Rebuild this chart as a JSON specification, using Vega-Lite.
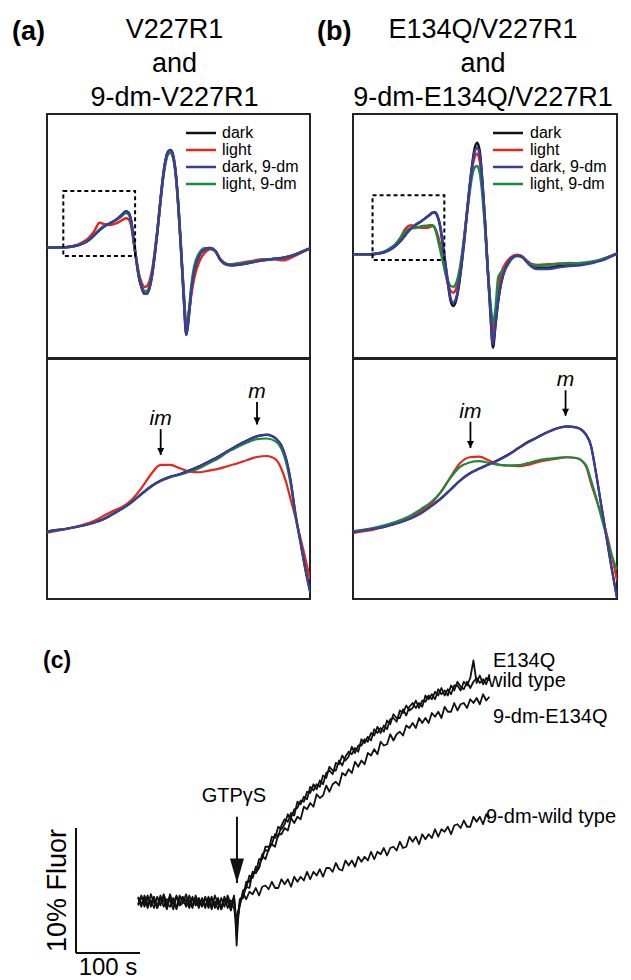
{
"$schema": "https://vega.github.io/schema/vega-lite/v6.json",
"padding": {"left": 12, "top": 15, "right": 0, "bottom": 0},
"background": "white",
"config": {"font": "Liberation Sans", "view": {"stroke": null}},
"datasets": {
"a_top": [
{"B":3320,"d":1,"l":1,"d9":1,"l9":1},{"B":3325,"d":2,"l":2,"d9":2,"l9":2},{"B":3328,"d":3,"l":3,"d9":3,"l9":3},{"B":3330,"d":5,"l":6,"d9":5,"l9":5},{"B":3332,"d":9,"l":11,"d9":9,"l9":9},{"B":3334,"d":15,"l":19,"d9":15,"l9":15},{"B":3336,"d":25,"l":31,"d9":25,"l9":24},{"B":3338,"d":39,"l":51,"d9":39,"l9":38},{"B":3340,"d":54,"l":76,"d9":54,"l9":56},{"B":3342,"d":66,"l":71,"d9":66,"l9":67},{"B":3344,"d":74,"l":69,"d9":74,"l9":75},{"B":3346,"d":83,"l":73,"d9":83,"l9":83},{"B":3348,"d":96,"l":81,"d9":96,"l9":93},{"B":3349,"d":104,"l":86,"d9":104,"l9":100},{"B":3350,"d":110,"l":89,"d9":110,"l9":105},{"B":3351,"d":106,"l":86,"d9":106,"l9":101},{"B":3352,"d":81,"l":66,"d9":81,"l9":78},{"B":3353,"d":21,"l":16,"d9":21,"l9":21},{"B":3354,"d":-39,"l":-34,"d9":-39,"l9":-37},{"B":3355,"d":-89,"l":-79,"d9":-89,"l9":-84},{"B":3356,"d":-119,"l":-104,"d9":-119,"l9":-113},{"B":3357,"d":-137,"l":-117,"d9":-137,"l9":-129},{"B":3358,"d":-137,"l":-114,"d9":-137,"l9":-129},{"B":3359,"d":-119,"l":-99,"d9":-119,"l9":-112},{"B":3360,"d":-79,"l":-64,"d9":-79,"l9":-74},{"B":3361,"d":-19,"l":-9,"d9":-19,"l9":-16},{"B":3362,"d":51,"l":56,"d9":51,"l9":53},{"B":3363,"d":131,"l":131,"d9":131,"l9":129},{"B":3364,"d":206,"l":201,"d9":206,"l9":201},{"B":3365,"d":261,"l":253,"d9":261,"l9":254},{"B":3366,"d":289,"l":281,"d9":289,"l9":281},{"B":3367,"d":294,"l":286,"d9":294,"l9":286},{"B":3368,"d":276,"l":271,"d9":276,"l9":269},{"B":3369,"d":221,"l":216,"d9":221,"l9":216},{"B":3370,"d":121,"l":116,"d9":121,"l9":119},{"B":3371,"d":-9,"l":-9,"d9":-9,"l9":-7},{"B":3372,"d":-149,"l":-134,"d9":-149,"l9":-137},{"B":3373,"d":-261,"l":-229,"d9":-261,"l9":-244},{"B":3374,"d":-199,"l":-189,"d9":-199,"l9":-184},{"B":3375,"d":-119,"l":-134,"d9":-119,"l9":-104},{"B":3376,"d":-69,"l":-89,"d9":-69,"l9":-54},{"B":3378,"d":-21,"l":-39,"d9":-21,"l9":-14},{"B":3380,"d":-4,"l":-14,"d9":-4,"l9":-1},{"B":3382,"d":0,"l":-4,"d9":0,"l9":-1},{"B":3384,"d":-9,"l":-9,"d9":-9,"l9":-9},{"B":3386,"d":-37,"l":-34,"d9":-37,"l9":-35},{"B":3388,"d":-49,"l":-47,"d9":-49,"l9":-47},{"B":3390,"d":-52,"l":-49,"d9":-52,"l9":-50},{"B":3394,"d":-49,"l":-44,"d9":-49,"l9":-46},{"B":3398,"d":-43,"l":-39,"d9":-43,"l9":-41},{"B":3402,"d":-37,"l":-34,"d9":-37,"l9":-36},{"B":3406,"d":-33,"l":-34,"d9":-33,"l9":-32},{"B":3410,"d":-29,"l":-37,"d9":-29,"l9":-29},{"B":3414,"d":-21,"l":-24,"d9":-21,"l9":-20},{"B":3417,"d":-11,"l":-13,"d9":-11,"l9":-11},{"B":3420,"d":-1,"l":-1,"d9":-1,"l9":-1}
],
"b_top": [
{"B":3320,"d":0,"l":0,"d9":0,"l9":0},{"B":3325,"d":0,"l":0,"d9":0,"l9":0},{"B":3328,"d":1,"l":1,"d9":1,"l9":1},{"B":3330,"d":3,"l":3,"d9":3,"l9":4},{"B":3332,"d":7,"l":7,"d9":7,"l9":9},{"B":3334,"d":14,"l":15,"d9":14,"l9":18},{"B":3336,"d":25,"l":28,"d9":25,"l9":30},{"B":3338,"d":40,"l":50,"d9":40,"l9":50},{"B":3340,"d":60,"l":78,"d9":60,"l9":70},{"B":3342,"d":78,"l":87,"d9":78,"l9":78},{"B":3344,"d":90,"l":82,"d9":90,"l9":80},{"B":3346,"d":100,"l":80,"d9":100,"l9":84},{"B":3348,"d":112,"l":80,"d9":112,"l9":86},{"B":3349,"d":118,"l":82,"d9":118,"l9":87},{"B":3350,"d":125,"l":85,"d9":124,"l9":87},{"B":3351,"d":126,"l":80,"d9":125,"l9":78},{"B":3352,"d":115,"l":60,"d9":114,"l9":50},{"B":3353,"d":85,"l":30,"d9":85,"l9":15},{"B":3354,"d":30,"l":-10,"d9":32,"l9":-20},{"B":3355,"d":-30,"l":-55,"d9":-27,"l9":-55},{"B":3356,"d":-90,"l":-90,"d9":-85,"l9":-80},{"B":3357,"d":-140,"l":-110,"d9":-132,"l9":-95},{"B":3358,"d":-155,"l":-115,"d9":-145,"l9":-97},{"B":3359,"d":-140,"l":-105,"d9":-133,"l9":-88},{"B":3360,"d":-100,"l":-75,"d9":-95,"l9":-60},{"B":3361,"d":-40,"l":-25,"d9":-37,"l9":-15},{"B":3362,"d":30,"l":40,"d9":32,"l9":45},{"B":3363,"d":110,"l":115,"d9":110,"l9":110},{"B":3364,"d":190,"l":185,"d9":188,"l9":175},{"B":3365,"d":260,"l":250,"d9":255,"l9":230},{"B":3366,"d":315,"l":290,"d9":305,"l9":260},{"B":3367,"d":335,"l":302,"d9":320,"l9":265},{"B":3368,"d":310,"l":280,"d9":300,"l9":245},{"B":3369,"d":220,"l":200,"d9":215,"l9":180},{"B":3370,"d":100,"l":90,"d9":100,"l9":80},{"B":3371,"d":-40,"l":-40,"d9":-38,"l9":-40},{"B":3372,"d":-170,"l":-150,"d9":-165,"l9":-140},{"B":3373,"d":-280,"l":-230,"d9":-270,"l9":-205},{"B":3374,"d":-210,"l":-180,"d9":-205,"l9":-160},{"B":3375,"d":-140,"l":-120,"d9":-138,"l9":-70},{"B":3376,"d":-90,"l":-60,"d9":-90,"l9":-55},{"B":3378,"d":-35,"l":-25,"d9":-37,"l9":-40},{"B":3380,"d":-10,"l":-8,"d9":-12,"l9":-15},{"B":3382,"d":-2,"l":-2,"d9":-4,"l9":-5},{"B":3384,"d":-6,"l":-6,"d9":-8,"l9":-8},{"B":3386,"d":-22,"l":-20,"d9":-25,"l9":-22},{"B":3388,"d":-35,"l":-30,"d9":-39,"l9":-32},{"B":3390,"d":-40,"l":-32,"d9":-44,"l9":-34},{"B":3394,"d":-40,"l":-30,"d9":-44,"l9":-32},{"B":3398,"d":-35,"l":-28,"d9":-39,"l9":-28},{"B":3402,"d":-32,"l":-26,"d9":-35,"l9":-27},{"B":3406,"d":-30,"l":-28,"d9":-33,"l9":-26},{"B":3410,"d":-25,"l":-25,"d9":-27,"l9":-22},{"B":3414,"d":-17,"l":-16,"d9":-19,"l9":-15},{"B":3417,"d":-8,"l":-7,"d9":-9,"l9":-7},{"B":3420,"d":2,"l":2,"d9":2,"l9":2}
],
"a_bot": [
{"B":3326.2,"d":30.8,"l":29.8,"d9":30.6,"l9":30.6},{"B":3327,"d":31.9,"l":31.1,"d9":31.7,"l9":31.7},{"B":3328,"d":32.9,"l":32.5,"d9":32.7,"l9":32.7},{"B":3329,"d":34.3,"l":34.4,"d9":34.1,"l9":34.1},{"B":3330,"d":35.9,"l":36.5,"d9":35.7,"l9":35.7},{"B":3331,"d":38.0,"l":39.2,"d9":37.8,"l9":37.8},{"B":3332,"d":40.7,"l":43.2,"d9":40.5,"l9":40.5},{"B":3333,"d":45.0,"l":47.3,"d9":44.8,"l9":44.6},{"B":3334,"d":49.6,"l":50.8,"d9":49.4,"l9":49.2},{"B":3335,"d":55.0,"l":56.7,"d9":54.8,"l9":54.6},{"B":3336,"d":61.4,"l":66.1,"d9":61.2,"l9":61.0},{"B":3337,"d":67.6,"l":77.4,"d9":67.4,"l9":67.2},{"B":3338,"d":72.2,"l":84.9,"d9":72.0,"l9":71.8},{"B":3339,"d":75.4,"l":84.9,"d9":75.2,"l9":75.0},{"B":3340,"d":77.6,"l":82.2,"d9":77.4,"l9":77.0},{"B":3341,"d":80.5,"l":79.5,"d9":80.3,"l9":79.5},{"B":3342,"d":83.8,"l":79.0,"d9":83.6,"l9":82.2},{"B":3343,"d":87.8,"l":80.3,"d9":87.6,"l9":86.3},{"B":3344,"d":91.8,"l":81.7,"d9":91.6,"l9":90.3},{"B":3345,"d":96.4,"l":84.1,"d9":96.2,"l9":95.7},{"B":3346,"d":101.0,"l":86.3,"d9":100.8,"l9":99.5},{"B":3347,"d":105.0,"l":89.0,"d9":104.8,"l9":103.2},{"B":3348,"d":108.3,"l":91.4,"d9":108.1,"l9":105.9},{"B":3349,"d":109.6,"l":92.2,"d9":109.4,"l9":106.4},{"B":3350,"d":106.1,"l":89.0,"d9":105.9,"l9":103.7},{"B":3350.5,"d":101.3,"l":82.2,"d9":101.1,"l9":98.4},{"B":3351,"d":90.5,"l":71.5,"d9":90.3,"l9":87.6},{"B":3351.5,"d":71.7,"l":56.7,"d9":71.5,"l9":68.8},{"B":3352,"d":44.8,"l":41.9,"d9":44.6,"l9":43.2},{"B":3352.5,"d":23.2,"l":25.7,"d9":23.0,"l9":21.7},{"B":3353,"d":1.7,"l":9.6,"d9":1.5,"l9":0.2},{"B":3353.5,"d":-17.1,"l":-7.9,"d9":-17.3,"l9":-18.6}
],
"b_bot": [
{"B":3327.4,"d":37.3,"l":36.3,"d9":37.1,"l9":37.9},{"B":3328.4,"d":38.6,"l":37.6,"d9":38.4,"l9":39.0},{"B":3329.4,"d":39.7,"l":38.9,"d9":39.5,"l9":40.3},{"B":3330.4,"d":41.0,"l":40.8,"d9":40.8,"l9":42.1},{"B":3331.4,"d":43.1,"l":43.2,"d9":42.9,"l9":44.3},{"B":3332.4,"d":45.5,"l":45.9,"d9":45.3,"l9":47.2},{"B":3333.4,"d":48.5,"l":49.3,"d9":48.3,"l9":50.7},{"B":3334.4,"d":52.5,"l":53.9,"d9":52.3,"l9":55.7},{"B":3335.4,"d":57.8,"l":59.7,"d9":57.6,"l9":61.0},{"B":3336.4,"d":63.9,"l":69.0,"d9":63.7,"l9":69.0},{"B":3337.4,"d":71.1,"l":81.0,"d9":70.9,"l9":80.5},{"B":3338.4,"d":78.6,"l":92.5,"d9":78.4,"l9":89.6},{"B":3339.4,"d":84.4,"l":97.6,"d9":84.2,"l9":93.3},{"B":3340.4,"d":88.4,"l":98.1,"d9":88.2,"l9":94.4},{"B":3341.4,"d":91.9,"l":94.9,"d9":91.7,"l9":93.0},{"B":3342.4,"d":95.6,"l":91.7,"d9":95.2,"l9":91.4},{"B":3343.4,"d":99.8,"l":90.9,"d9":99.4,"l9":90.9},{"B":3344.4,"d":104.9,"l":90.4,"d9":104.5,"l9":91.2},{"B":3345.4,"d":109.9,"l":91.4,"d9":109.5,"l9":92.8},{"B":3346.4,"d":113.8,"l":93.6,"d9":113.5,"l9":94.9},{"B":3347.4,"d":117.8,"l":95.2,"d9":117.5,"l9":96.2},{"B":3348.4,"d":121.0,"l":96.5,"d9":120.7,"l9":97.0},{"B":3349.4,"d":122.6,"l":97.6,"d9":122.3,"l9":97.6},{"B":3350.4,"d":121.8,"l":97.0,"d9":121.5,"l9":97.0},{"B":3351.4,"d":116.0,"l":90.4,"d9":115.7,"l9":91.2},{"B":3351.9,"d":107.5,"l":77.0,"d9":107.2,"l9":79.7},{"B":3352.4,"d":86.7,"l":65.0,"d9":86.4,"l9":66.4},{"B":3352.9,"d":62.7,"l":53.0,"d9":62.4,"l9":51.7},{"B":3353.4,"d":38.7,"l":39.7,"d9":38.4,"l9":37.1},{"B":3353.9,"d":14.7,"l":23.7,"d9":14.4,"l9":22.4},{"B":3354.6,"d":-15.9,"l":-2.1,"d9":-16.2,"l9":6.4}
],
"a_box": [{"B1":3326.2,"B2":3353.5,"A1":171,"A2":-24}],
"b_box": [{"B1":3327.4,"B2":3354.6,"A1":177,"A2":-17}],
"a_arrows": [{"label":"im","B":3338.0,"top":114.0,"tip":93.0},{"label":"m","B":3348.0,"top":136.0,"tip":117.7}],
"b_arrows": [{"label":"im","B":3339.5,"top":126.3,"tip":105.0},{"label":"m","B":3349.3,"top":151.7,"tip":131.1}],
"traces": [
{"t":97,"wt":4.4,"e":3.8,"de":4.5,"dw":3.9},{"t":102,"wt":3.7,"e":4.5,"de":3.9,"dw":4.6},{"t":107,"wt":4.6,"e":4.0,"de":4.4,"dw":3.7},{"t":112,"wt":3.9,"e":4.6,"de":3.6,"dw":4.4},{"t":117,"wt":4.2,"e":3.7,"de":4.7,"dw":4.0},{"t":122,"wt":3.6,"e":4.3,"de":4.0,"dw":4.5},{"t":127,"wt":4.5,"e":3.6,"de":3.8,"dw":3.6},{"t":132,"wt":3.8,"e":4.4,"de":4.6,"dw":4.3},{"t":137,"wt":4.7,"e":4.2,"de":3.7,"dw":4.4},{"t":142,"wt":4.0,"e":3.5,"de":4.3,"dw":3.8},{"t":147,"wt":3.7,"e":4.5,"de":4.2,"dw":4.7},{"t":152,"wt":4.4,"e":3.9,"de":3.5,"dw":3.9},{"t":157,"wt":3.5,"e":4.6,"de":4.5,"dw":3.7},{"t":162,"wt":4.3,"e":3.8,"de":3.9,"dw":4.6},{"t":167,"wt":4.5,"e":4.0,"de":4.4,"dw":4.0},{"t":172,"wt":3.8,"e":4.7,"de":3.7,"dw":4.3},{"t":177,"wt":4.2,"e":3.7,"de":4.6,"dw":3.6},{"t":182,"wt":3.6,"e":4.3,"de":3.8,"dw":4.5},{"t":187,"wt":4.6,"e":3.9,"de":4.3,"dw":3.8},{"t":192,"wt":3.9,"e":4.4,"de":3.6,"dw":4.2},{"t":197,"wt":4.3,"e":3.7,"de":4.4,"dw":3.8},{"t":202,"wt":3.6,"e":4.4,"de":3.8,"dw":4.5},{"t":207,"wt":4.5,"e":3.9,"de":4.3,"dw":3.6},{"t":212,"wt":3.8,"e":4.5,"de":3.5,"dw":4.3},{"t":217,"wt":4.1,"e":3.6,"de":4.6,"dw":3.9},{"t":222,"wt":3.5,"e":4.2,"de":3.9,"dw":4.4},{"t":227,"wt":4.4,"e":3.5,"de":3.7,"dw":3.5},{"t":232,"wt":3.7,"e":4.3,"de":4.5,"dw":4.2},{"t":237,"wt":4.6,"e":4.1,"de":3.6,"dw":4.3},{"t":242,"wt":3.9,"e":3.4,"de":4.2,"dw":3.7},{"t":247,"wt":3.6,"e":4.4,"de":4.1,"dw":4.6},{"t":249,"wt":2.8,"e":3.2,"de":3.0,"dw":3.4},{"t":251,"wt":0.6,"e":2.0,"de":1.4,"dw":2.4},{"t":253,"wt":2.5,"e":3.0,"de":2.8,"dw":3.3},
{"t":256,"wt":4.2,"e":3.8,"de":4.3,"dw":3.9},{"t":261,"wt":4.4,"e":5.0,"de":4.5,"dw":4.8},{"t":266,"wt":5.7,"e":5.2,"de":5.3,"dw":4.3},{"t":271,"wt":5.7,"e":6.2,"de":5.2,"dw":4.9},{"t":276,"wt":6.4,"e":6.0,"de":6.5,"dw":4.7},{"t":281,"wt":6.4,"e":6.9,"de":6.4,"dw":5.2},{"t":286,"wt":7.5,"e":6.8,"de":6.8,"dw":4.6},{"t":291,"wt":7.5,"e":7.9,"de":7.8,"dw":5.3},{"t":296,"wt":8.5,"e":8.2,"de":7.5,"dw":5.4},{"t":301,"wt":8.5,"e":8.2,"de":8.3,"dw":5.1},{"t":306,"wt":8.7,"e":9.3,"de":8.7,"dw":5.7},{"t":311,"wt":9.5,"e":9.2,"de":8.5,"dw":5.2},{"t":316,"wt":9.3,"e":10.1,"de":9.5,"dw":5.2},{"t":321,"wt":10.2,"e":9.9,"de":9.5,"dw":5.9},{"t":326,"wt":10.7,"e":10.3,"de":10.0,"dw":5.5},{"t":331,"wt":10.5,"e":11.1,"de":9.8,"dw":5.9},{"t":336,"wt":11.2,"e":10.8,"de":10.8,"dw":5.3},{"t":341,"wt":11.0,"e":11.5,"de":10.4,"dw":6.1},{"t":346,"wt":12.1,"e":11.6,"de":10.9,"dw":5.7},{"t":351,"wt":11.9,"e":12.2,"de":10.7,"dw":6.1},{"t":356,"wt":12.5,"e":12.1,"de":11.7,"dw":5.8},{"t":361,"wt":12.3,"e":12.9,"de":11.5,"dw":6.5},{"t":366,"wt":13.3,"e":12.8,"de":12.0,"dw":5.9},{"t":371,"wt":13.0,"e":13.5,"de":11.7,"dw":6.5},{"t":376,"wt":13.5,"e":13.1,"de":12.7,"dw":6.2},{"t":381,"wt":13.3,"e":13.8,"de":12.4,"dw":6.7},{"t":386,"wt":14.2,"e":13.5,"de":12.6,"dw":6.1},{"t":391,"wt":14.0,"e":14.4,"de":13.4,"dw":6.8},{"t":396,"wt":14.9,"e":14.6,"de":12.9,"dw":6.8},{"t":401,"wt":14.6,"e":14.3,"de":13.5,"dw":6.5},{"t":406,"wt":14.6,"e":15.2,"de":13.7,"dw":7.2},{"t":411,"wt":15.4,"e":15.1,"de":13.4,"dw":6.7},{"t":416,"wt":15.0,"e":15.8,"de":14.4,"dw":6.6},{"t":421,"wt":15.7,"e":15.4,"de":14.2,"dw":7.4},{"t":426,"wt":16.1,"e":15.7,"de":14.7,"dw":7.0},{"t":431,"wt":15.9,"e":16.5,"de":14.4,"dw":7.4},{"t":436,"wt":16.4,"e":16.0,"de":15.3,"dw":6.9},{"t":441,"wt":16.1,"e":16.6,"de":14.9,"dw":7.7},{"t":446,"wt":17.1,"e":16.6,"de":15.4,"dw":7.3},{"t":451,"wt":16.8,"e":17.1,"de":15.1,"dw":7.7},{"t":456,"wt":17.3,"e":16.9,"de":16.0,"dw":7.4},{"t":461,"wt":17.0,"e":17.6,"de":15.8,"dw":8.1},{"t":466,"wt":17.9,"e":17.4,"de":16.3,"dw":7.5},{"t":471,"wt":17.6,"e":18.1,"de":15.9,"dw":8.1},{"t":476,"wt":18.0,"e":17.6,"de":16.9,"dw":7.9},{"t":481,"wt":17.7,"e":18.2,"de":16.6,"dw":8.4},{"t":486,"wt":18.6,"e":17.9,"de":16.7,"dw":7.8},{"t":491,"wt":18.3,"e":18.7,"de":17.5,"dw":8.4},{"t":496,"wt":19.1,"e":18.8,"de":17.0,"dw":8.5},{"t":501,"wt":18.8,"e":18.5,"de":17.5,"dw":8.2},{"t":506,"wt":18.8,"e":19.4,"de":17.7,"dw":8.9},{"t":511,"wt":19.5,"e":19.2,"de":17.4,"dw":8.4},{"t":516,"wt":19.0,"e":19.8,"de":18.2,"dw":8.5},{"t":521,"wt":19.7,"e":19.4,"de":18.0,"dw":9.3},{"t":526,"wt":20.0,"e":19.6,"de":18.4,"dw":8.9},{"t":531,"wt":19.6,"e":20.2,"de":18.0,"dw":9.3},{"t":536,"wt":20.0,"e":19.6,"de":18.8,"dw":8.7},{"t":541,"wt":19.7,"e":20.2,"de":18.4,"dw":9.5},{"t":546,"wt":20.6,"e":20.1,"de":18.8,"dw":9.1},{"t":551,"wt":20.3,"e":20.6,"de":18.4,"dw":9.5},{"t":556,"wt":20.7,"e":20.3,"de":19.2,"dw":9.2},{"t":561,"wt":20.3,"e":20.9,"de":18.9,"dw":9.9},{"t":566,"wt":21.1,"e":20.6,"de":19.3,"dw":9.3},{"t":571,"wt":20.7,"e":21.2,"de":18.8,"dw":9.9},{"t":576,"wt":21.0,"e":20.6,"de":19.7,"dw":9.7},{"t":581,"wt":20.6,"e":21.1,"de":19.3,"dw":10.1},{"t":586,"wt":21.4,"e":20.7,"de":19.3,"dw":9.5},{"t":591,"wt":21.0,"e":21.4,"de":20.0,"dw":10.2},{"t":596,"wt":21.7,"e":21.4,"de":19.4,"dw":10.3},{"t":601,"wt":21.3,"e":21.0,"de":19.9,"dw":10.0},{"t":606,"wt":21.1,"e":21.7,"de":20.0,"dw":10.6},{"t":611,"wt":21.7,"e":21.4,"de":19.6,"dw":10.1},{"t":616,"wt":21.2,"e":22.0,"de":20.3,"dw":10.1},{"t":621,"wt":21.7,"e":23.4,"de":20.0,"dw":10.9},{"t":626,"wt":22.0,"e":21.6,"de":20.4,"dw":10.5},{"t":631,"wt":21.6,"e":22.2,"de":19.9,"dw":10.9},{"t":636,"wt":21.9,"e":21.5,"de":20.7,"dw":10.3},{"t":641,"wt":21.5,"e":22.0,"de":20.2,"dw":11.1},{"t":646,"wt":22.3,"e":21.8,"de":20.5,"dw":10.7}
],
"bars": [{"t":0,"t2":0,"F":0,"F2":10},{"t":0,"t2":100,"F":0,"F2":0}],
"trace_labels": [{"label":"E134Q","t":651.6,"F":23.4},{"label":"wild type","t":643.8,"F":21.8},{"label":"9-dm-E134Q","t":651.6,"F":18.9},{"label":"9-dm-wild type","t":640.6,"F":10.9}],
"gtp": [{"label":"GTP\u03b3S","t":251.5,"F":12.1,"top":10.9,"tip":5.6}]
},
"spacing": 33,
"resolve": {"scale": {"color": "independent"}, "legend": {"color": "independent"}},
"vconcat": [
{
"spacing": 6,
"resolve": {"scale": {"color": "independent"}, "legend": {"color": "independent"}},
"hconcat": [
{
"spacing": -1,
"title": {"text": "(a)", "anchor": "start", "frame": "group", "fontSize": 27, "fontWeight": "bold", "font": "Liberation Sans", "color": "black", "dx": -35, "dy": 31, "offset": 0},
"resolve": {"scale": {"color": "independent"}, "legend": {"color": "independent"}},
"vconcat": [
{
"width": 263, "height": 244,
"view": {"stroke": "#222", "strokeWidth": 2},
"title": {"text": ["V227R1", "and", "9-dm-V227R1"], "fontSize": 27, "fontWeight": "normal", "font": "Liberation Sans", "lineHeight": 34, "offset": 2, "frame": "group", "anchor": "middle", "dx": -4, "color": "black"},
"layer": [
{
"data": {"name": "a_top"},
"transform": [{"fold": ["d", "l", "l9", "d9"], "as": ["series", "amp"]}],
"mark": {"type": "line", "strokeWidth": 2.5, "interpolate": "monotone", "clip": true},
"encoding": {
"x": {"field": "B", "type": "quantitative", "scale": {"domain": [3320, 3420], "nice": false, "zero": false}, "axis": null},
"y": {"field": "amp", "type": "quantitative", "scale": {"domain": [-330, 402], "nice": false, "zero": false}, "axis": null},
"color": {"field": "series", "type": "nominal", "scale": {"domain": ["d", "l", "d9", "l9"], "range": ["#111111", "#e4261c", "#3a3d9a", "#1a8b3e"]}, "legend": {"orient": "none", "legendX": 146, "legendY": 11, "title": null, "symbolType": "M-3,0H3", "symbolSize": 100, "symbolStrokeWidth": 2.5, "labelFontSize": 16, "labelFont": "Liberation Sans", "labelColor": "black", "labelOffset": 13, "rowPadding": 1, "padding": 0, "labelExpr": "datum.label == 'd' ? 'dark' : datum.label == 'l' ? 'light' : datum.label == 'd9' ? 'dark, 9-dm' : 'light, 9-dm'"}}
}
},
{
"data": {"name": "a_box"},
"mark": {"type": "rect", "filled": false, "stroke": "black", "strokeWidth": 2, "strokeDash": [4, 3]},
"encoding": {"x": {"field": "B1", "type": "quantitative"}, "x2": {"field": "B2"}, "y": {"field": "A1", "type": "quantitative"}, "y2": {"field": "A2"}}
}
]
},
{
"width": 263, "height": 240,
"view": {"stroke": "#222", "strokeWidth": 2},
"layer": [
{
"data": {"name": "a_bot"},
"transform": [{"fold": ["d", "l", "l9", "d9"], "as": ["series", "amp"]}],
"mark": {"type": "line", "strokeWidth": 2.2, "interpolate": "monotone", "clip": true},
"encoding": {
"x": {"field": "B", "type": "quantitative", "scale": {"domain": [3326.2, 3353.5], "nice": false, "zero": false}, "axis": null},
"y": {"field": "amp", "type": "quantitative", "scale": {"domain": [-24, 171], "nice": false, "zero": false}, "axis": null},
"color": {"field": "series", "type": "nominal", "scale": {"domain": ["d", "l", "d9", "l9"], "range": ["#111111", "#e4261c", "#3a3d9a", "#1a8b3e"]}, "legend": null}
}
},
{
"data": {"name": "a_arrows"},
"mark": {"type": "rule", "strokeWidth": 1.8, "color": "black"},
"encoding": {"x": {"field": "B", "type": "quantitative"}, "y": {"field": "top", "type": "quantitative"}, "y2": {"field": "tip"}}
},
{
"data": {"name": "a_arrows"},
"mark": {"type": "point", "shape": "M-1,-2L1,-2L0,0Z", "size": 49, "filled": true, "color": "black", "opacity": 1},
"encoding": {"x": {"field": "B", "type": "quantitative"}, "y": {"field": "tip", "type": "quantitative"}}
},
{
"data": {"name": "a_arrows"},
"mark": {"type": "text", "fontSize": 21, "fontStyle": "italic", "font": "Liberation Sans", "align": "center", "baseline": "alphabetic", "dy": -4, "color": "black"},
"encoding": {"x": {"field": "B", "type": "quantitative"}, "y": {"field": "top", "type": "quantitative"}, "text": {"field": "label"}}
}
]
}
]
},
{
"spacing": -1,
"title": {"text": "(b)", "anchor": "start", "frame": "group", "fontSize": 27, "fontWeight": "bold", "font": "Liberation Sans", "color": "black", "dx": -36, "dy": 31, "offset": 0},
"resolve": {"scale": {"color": "independent"}, "legend": {"color": "independent"}},
"vconcat": [
{
"width": 264, "height": 244,
"view": {"stroke": "#222", "strokeWidth": 2},
"title": {"text": ["E134Q/V227R1", "and", "9-dm-E134Q/V227R1"], "fontSize": 27, "fontWeight": "normal", "font": "Liberation Sans", "lineHeight": 34, "offset": 2, "frame": "group", "anchor": "middle", "dx": -2, "color": "black"},
"layer": [
{
"data": {"name": "b_top"},
"transform": [{"fold": ["d", "l", "l9", "d9"], "as": ["series", "amp"]}],
"mark": {"type": "line", "strokeWidth": 2.5, "interpolate": "monotone", "clip": true},
"encoding": {
"x": {"field": "B", "type": "quantitative", "scale": {"domain": [3320, 3420], "nice": false, "zero": false}, "axis": null},
"y": {"field": "amp", "type": "quantitative", "scale": {"domain": [-311, 421], "nice": false, "zero": false}, "axis": null},
"color": {"field": "series", "type": "nominal", "scale": {"domain": ["d", "l", "d9", "l9"], "range": ["#111111", "#e4261c", "#3a3d9a", "#1a8b3e"]}, "legend": {"orient": "none", "legendX": 147, "legendY": 11, "title": null, "symbolType": "M-3,0H3", "symbolSize": 100, "symbolStrokeWidth": 2.5, "labelFontSize": 16, "labelFont": "Liberation Sans", "labelColor": "black", "labelOffset": 14, "rowPadding": 1, "padding": 0, "labelExpr": "datum.label == 'd' ? 'dark' : datum.label == 'l' ? 'light' : datum.label == 'd9' ? 'dark, 9-dm' : 'light, 9-dm'"}}
}
},
{
"data": {"name": "b_box"},
"mark": {"type": "rect", "filled": false, "stroke": "black", "strokeWidth": 2, "strokeDash": [4, 3]},
"encoding": {"x": {"field": "B1", "type": "quantitative"}, "x2": {"field": "B2"}, "y": {"field": "A1", "type": "quantitative"}, "y2": {"field": "A2"}}
}
]
},
{
"width": 264, "height": 240,
"view": {"stroke": "#222", "strokeWidth": 2},
"layer": [
{
"data": {"name": "b_bot"},
"transform": [{"fold": ["d", "l", "l9", "d9"], "as": ["series", "amp"]}],
"mark": {"type": "line", "strokeWidth": 2.2, "interpolate": "monotone", "clip": true},
"encoding": {
"x": {"field": "B", "type": "quantitative", "scale": {"domain": [3327.4, 3354.6], "nice": false, "zero": false}, "axis": null},
"y": {"field": "amp", "type": "quantitative", "scale": {"domain": [-17, 177], "nice": false, "zero": false}, "axis": null},
"color": {"field": "series", "type": "nominal", "scale": {"domain": ["d", "l", "d9", "l9"], "range": ["#111111", "#e4261c", "#3a3d9a", "#1a8b3e"]}, "legend": null}
}
},
{
"data": {"name": "b_arrows"},
"mark": {"type": "rule", "strokeWidth": 1.8, "color": "black"},
"encoding": {"x": {"field": "B", "type": "quantitative"}, "y": {"field": "top", "type": "quantitative"}, "y2": {"field": "tip"}}
},
{
"data": {"name": "b_arrows"},
"mark": {"type": "point", "shape": "M-1,-2L1,-2L0,0Z", "size": 49, "filled": true, "color": "black", "opacity": 1},
"encoding": {"x": {"field": "B", "type": "quantitative"}, "y": {"field": "tip", "type": "quantitative"}}
},
{
"data": {"name": "b_arrows"},
"mark": {"type": "text", "fontSize": 21, "fontStyle": "italic", "font": "Liberation Sans", "align": "center", "baseline": "alphabetic", "dy": -4, "color": "black"},
"encoding": {"x": {"field": "B", "type": "quantitative"}, "y": {"field": "top", "type": "quantitative"}, "text": {"field": "label"}}
}
]
}
]
}
]
},
{
"width": 445, "height": 320,
"layer": [
{
"data": {"name": "traces"},
"transform": [{"fold": ["wt", "e", "de", "dw"], "as": ["trace", "F"]}],
"mark": {"type": "line", "color": "#111111", "strokeWidth": 1.8, "strokeJoin": "round"},
"encoding": {
"x": {"field": "t", "type": "quantitative", "scale": {"domain": [-45.3, 650], "nice": false, "zero": false}, "axis": null},
"y": {"field": "F", "type": "quantitative", "scale": {"domain": [0, 25.6], "nice": false, "zero": false}, "axis": null},
"detail": {"field": "trace"}
}
},
{
"data": {"name": "bars"},
"mark": {"type": "rule", "color": "#111111", "strokeWidth": 2},
"encoding": {"x": {"field": "t", "type": "quantitative"}, "x2": {"field": "t2"}, "y": {"field": "F", "type": "quantitative"}, "y2": {"field": "F2"}}
},
{
"data": {"values": [{"label": "10% Fluor", "t": -28.8, "F": 5}]},
"mark": {"type": "text", "angle": 270, "fontSize": 27, "font": "Liberation Sans", "align": "center", "baseline": "middle", "color": "black"},
"encoding": {"x": {"field": "t", "type": "quantitative"}, "y": {"field": "F", "type": "quantitative"}, "text": {"field": "label"}}
},
{
"data": {"values": [{"label": "100 s", "t": 50, "F": 0}]},
"mark": {"type": "text", "fontSize": 24, "font": "Liberation Sans", "align": "center", "baseline": "top", "dy": 3, "color": "black"},
"encoding": {"x": {"field": "t", "type": "quantitative"}, "y": {"field": "F", "type": "quantitative"}, "text": {"field": "label"}}
},
{
"data": {"values": [{"label": "(c)", "t": -51.6, "F": 22.8}]},
"mark": {"type": "text", "fontSize": 23, "fontWeight": "bold", "font": "Liberation Sans", "align": "left", "baseline": "alphabetic", "color": "black"},
"encoding": {"x": {"field": "t", "type": "quantitative"}, "y": {"field": "F", "type": "quantitative"}, "text": {"field": "label"}}
},
{
"data": {"name": "trace_labels"},
"mark": {"type": "text", "fontSize": 20, "font": "Liberation Sans", "align": "left", "baseline": "middle", "color": "black"},
"encoding": {"x": {"field": "t", "type": "quantitative"}, "y": {"field": "F", "type": "quantitative"}, "text": {"field": "label"}}
},
{
"data": {"name": "gtp"},
"mark": {"type": "text", "fontSize": 20, "font": "Liberation Sans", "align": "center", "baseline": "alphabetic", "color": "black", "dx": -3},
"encoding": {"x": {"field": "t", "type": "quantitative"}, "y": {"field": "F", "type": "quantitative"}, "text": {"field": "label"}}
},
{
"data": {"name": "gtp"},
"mark": {"type": "rule", "color": "#111111", "strokeWidth": 2},
"encoding": {"x": {"field": "t", "type": "quantitative"}, "y": {"field": "top", "type": "quantitative"}, "y2": {"field": "tip"}}
},
{
"data": {"name": "gtp"},
"mark": {"type": "point", "shape": "M-1,-3.5L1,-3.5L0,0Z", "size": 196, "filled": true, "color": "#111111", "opacity": 1},
"encoding": {"x": {"field": "t", "type": "quantitative"}, "y": {"field": "tip", "type": "quantitative"}}
}
]
}
]
}
